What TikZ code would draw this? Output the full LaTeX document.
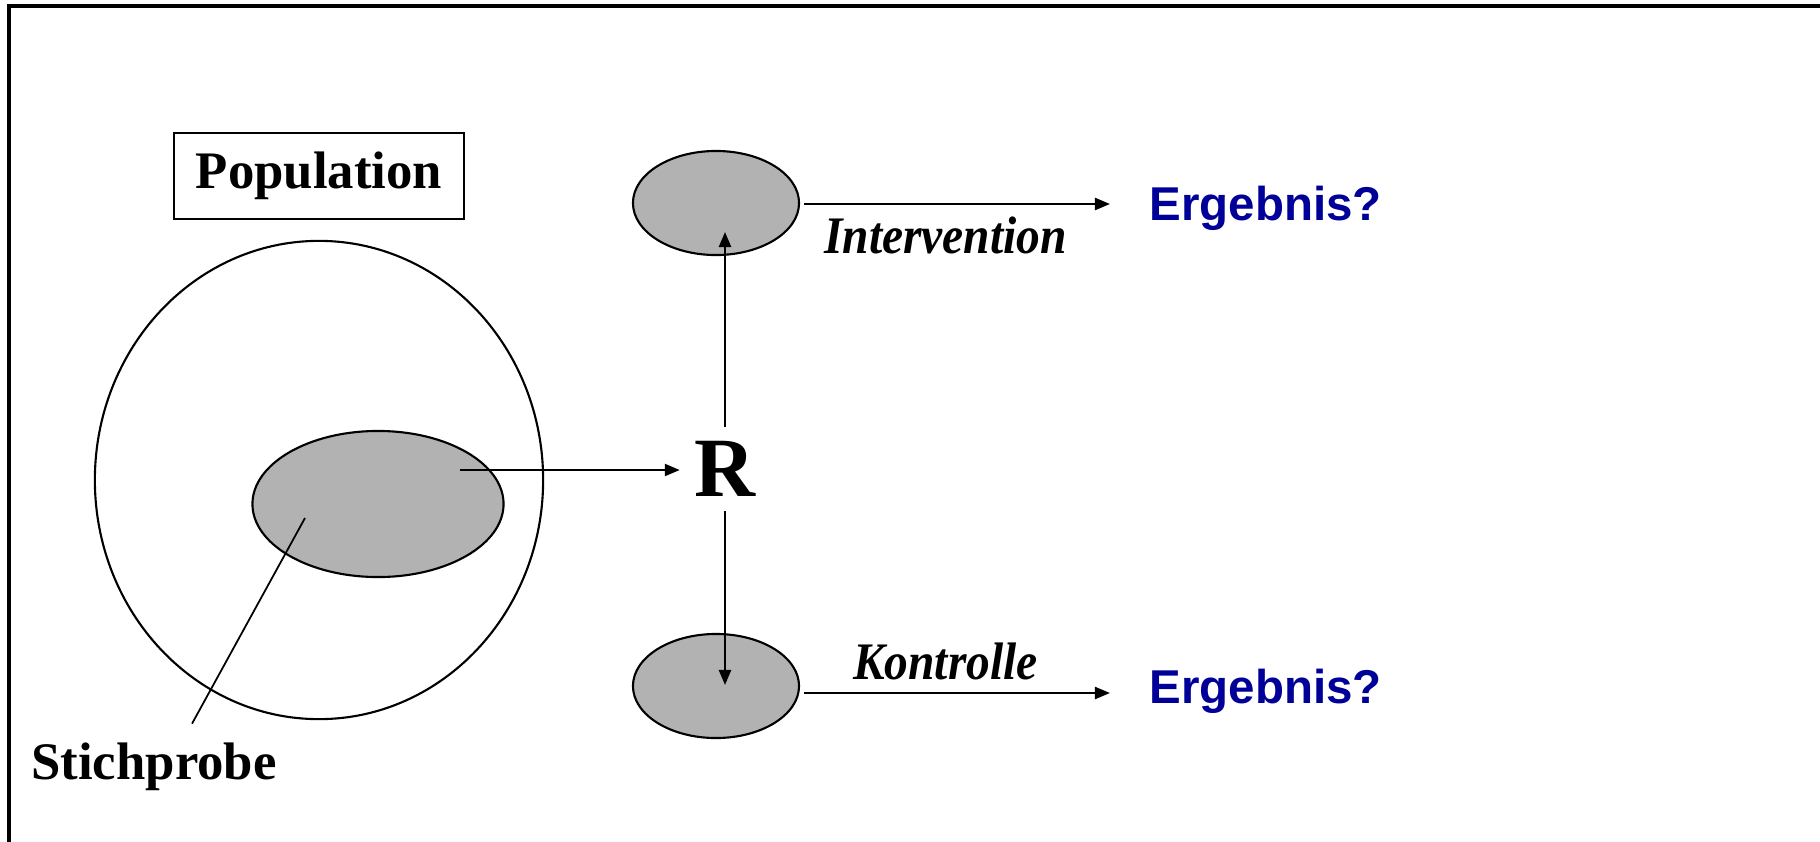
\documentclass[tikz,border=0pt]{standalone}
\usepackage{fontspec}
\setmainfont{Liberation Serif}
\setsansfont{Liberation Sans}
\usetikzlibrary{shapes.geometric, arrows.meta, positioning, calc}
\definecolor{grpgray}{RGB}{178,178,178}
\definecolor{ergblue}{RGB}{0,0,153}
\tikzset{
  popbox/.style = {rectangle, draw, line width=0.6pt,
                   minimum width=2.9cm, minimum height=0.86cm,
                   font=\fontsize{15}{18}\selectfont\bfseries},
  popell/.style = {ellipse, draw, line width=0.6pt,
                   minimum width=4.48cm, minimum height=4.78cm},
  grpell/.style = {ellipse, draw, fill=grpgray, line width=0.6pt,
                   minimum width=1.66cm, minimum height=1.04cm},
  armlbl/.style = {font=\fontsize{15}{18}\selectfont\bfseries\itshape},
  result/.style = {text=ergblue, inner sep=0pt, anchor=west,
                   font=\fontsize{13.5}{16}\selectfont\sffamily\bfseries},
  arrow/.style  = {-{Triangle[length=0.15cm, width=0.12cm]}, line width=0.65pt},
}

\begin{document}
\begin{tikzpicture}[x=0.01cm, y=-0.01cm]
  \useasboundingbox (0,0) rectangle (1820,842);
  \draw[line width=0.9pt] (9,6) rectangle (1840,860);

  % population and sample
  \node[popbox] (pop) at (319,176) {Population};
  \node[popell] (popul) at (319,480) {};
  \node[grpell, minimum width=2.51cm, minimum height=1.46cm] (smp) at (378,504) {};
  \node[font=\fontsize{15}{18}\selectfont\bfseries] (stich) at (154,767) {Stichprobe};
  \coordinate (smpin)  at (305,518);
  \coordinate (smpout) at (460,470);
  \draw[line width=0.5pt] (smpin) -- ([xshift=0.38cm, yshift=0.07cm]stich.north);

  % randomisation
  \node[font=\fontsize{24}{28}\selectfont\bfseries, inner sep=4pt] (R) at (725,469) {R};
  \draw[arrow] (smpout) -- (smpout -| R.west);

  % groups
  \node[grpell] (intv) at (716,203) {};
  \node[grpell] (kont) at (716,686) {};
  \coordinate (intvin) at (727,232);
  \coordinate (kontin) at (727,685);
  \draw[arrow] (R.north) -- (R.north |- intvin);
  \draw[arrow] (R.south) -- (R.south |- kontin);

  % results
  \node[result] (erg1) at (1149,208) {Ergebnis?};
  \node[result] (erg2) at (1149,691) {Ergebnis?};
  \coordinate (intvout) at ([xshift=0.04cm, yshift=-0.01cm]intv.east);
  \coordinate (kontout) at ([xshift=0.04cm, yshift=-0.07cm]kont.east);
  \draw[arrow, shorten >=0.39cm] (intvout) -- (intvout -| erg1.west)
    node[armlbl, below, pos=0.41] {\scalebox{0.9}[1]{Intervention}};
  \draw[arrow, shorten >=0.39cm] (kontout) -- (kontout -| erg2.west)
    node[armlbl, above, pos=0.41] {\scalebox{0.9}[1]{Kontrolle}};
\end{tikzpicture}
\end{document}
